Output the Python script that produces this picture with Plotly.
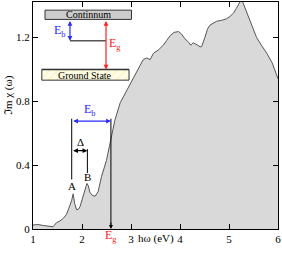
import plotly.graph_objects as go

energy = [1.0, 1.1, 1.21, 1.3, 1.41, 1.48, 1.55, 1.62, 1.68, 1.72, 1.76, 1.79, 1.82, 1.85, 1.89, 1.93, 1.96, 2.0, 2.03, 2.07, 2.10, 2.13, 2.16, 2.21, 2.27, 2.33, 2.40, 2.50, 2.57, 2.67, 2.78, 2.88, 2.98, 3.05, 3.12, 3.18, 3.25, 3.32, 3.39, 3.46, 3.56, 3.66, 3.73, 3.80, 3.88, 3.97, 4.03, 4.10, 4.17, 4.22, 4.27, 4.31, 4.36, 4.41, 4.44, 4.51, 4.56, 4.61, 4.68, 4.75, 4.85, 4.95, 5.02, 5.09, 5.15, 5.19, 5.24, 5.28, 5.33, 5.39, 5.47, 5.56, 5.66, 5.77, 5.88, 6.0]
chi = [0.025, 0.028, 0.022, 0.018, 0.014, 0.04, 0.05, 0.067, 0.09, 0.12, 0.15, 0.18, 0.22, 0.16, 0.12, 0.125, 0.14, 0.18, 0.22, 0.26, 0.285, 0.27, 0.23, 0.21, 0.205, 0.235, 0.33, 0.43, 0.535, 0.68, 0.79, 0.85, 0.91, 0.95, 0.99, 1.02, 1.06, 1.07, 1.06, 1.10, 1.12, 1.15, 1.18, 1.21, 1.23, 1.235, 1.22, 1.19, 1.17, 1.15, 1.165, 1.16, 1.15, 1.14, 1.14, 1.2, 1.25, 1.275, 1.29, 1.30, 1.305, 1.315, 1.33, 1.35, 1.38, 1.40, 1.43, 1.42, 1.38, 1.34, 1.28, 1.2, 1.15, 1.10, 1.04, 0.94]

x_ticks = [1, 2, 3, 4, 5, 6]
y_ticks = [0, 0.4, 0.8, 1.2]

serif = "Liberation Serif, Times New Roman, serif"
blue = "#2a2aff"
red = "#ff2020"

fig = go.Figure()
fig.add_trace(go.Scatter(x=energy, y=chi, mode="lines", fill="tozeroy",
                         fillcolor="#d9d9d9", line=dict(color="#555555", width=1),
                         hoverinfo="skip", showlegend=False))

# Ground state box (hatched)
gx0, gx1, gy0, gy1 = 1.18, 2.96, 0.931, 0.998
fig.add_trace(go.Scatter(x=[gx0, gx1, gx1, gx0, gx0], y=[gy0, gy0, gy1, gy1, gy0],
                         mode="lines", fill="toself", fillcolor="#fffce8",
                         fillpattern=dict(shape="/", fgcolor="#eedd44", bgcolor="#fffce8", size=6, solidity=0.15),
                         line=dict(color="#333333", width=1), showlegend=False, hoverinfo="skip"))

shapes = [
    dict(type="rect", x0=1.245, x1=3.01, y0=1.311, y1=1.369, fillcolor="#cccccc",
         line=dict(color="#333333", width=1)),
    dict(type="line", x0=gx0, x1=gx1, y0=gy1, y1=gy1, line=dict(color="#333333", width=1.5)),
    dict(type="line", x0=1.755, x1=2.49, y0=1.177, y1=1.177, line=dict(color="black", width=1)),
    dict(type="line", x0=1.79, x1=1.79, y0=0.69, y1=0.31, line=dict(color="black", width=1)),
    dict(type="line", x0=2.59, x1=2.59, y0=0.69, y1=0.02, line=dict(color="black", width=1)),
    dict(type="line", x0=2.11, x1=2.11, y0=0.50, y1=0.35, line=dict(color="black", width=1)),
]

def darrow(x0, y0, x1, y1, color):
    return dict(x=x1, y=y1, ax=x0, ay=y0, xref="x", yref="y", axref="x", ayref="y",
                showarrow=True, arrowhead=2, arrowside="end+start", arrowsize=0.8,
                arrowwidth=1.2, arrowcolor=color, text="")

annotations = [
    darrow(1.755, 1.311, 1.755, 1.177, blue),
    darrow(2.49, 1.311, 2.49, 0.998, red),
    darrow(1.79, 0.675, 2.59, 0.675, blue),
    darrow(1.79, 0.49, 2.11, 0.49, "black"),
    dict(x=2.59, y=0.0, ax=2.59, ay=0.05, xref="x", yref="y", axref="x", ayref="y",
         showarrow=True, arrowhead=2, arrowsize=0.8, arrowwidth=1, arrowcolor="black", text=""),
    dict(x=2.13, y=1.34, text="Continnum", showarrow=False, font=dict(family=serif, size=10, color="black")),
    dict(x=2.07, y=0.963, text="Ground State", showarrow=False, font=dict(family=serif, size=10, color="black")),
    dict(x=1.55, y=1.24, text="E<sub>b</sub>", showarrow=False, font=dict(family=serif, size=12, color=blue)),
    dict(x=2.68, y=1.16, text="E<sub>g</sub>", showarrow=False, font=dict(family=serif, size=12, color=red)),
    dict(x=2.17, y=0.745, text="E<sub>b</sub>", showarrow=False, font=dict(family=serif, size=12, color=blue)),
    dict(x=1.96, y=0.545, text="Δ", showarrow=False, font=dict(family=serif, size=11, color="black")),
    dict(x=1.80, y=0.27, text="A", showarrow=False, font=dict(family=serif, size=11, color="black")),
    dict(x=2.11, y=0.325, text="B", showarrow=False, font=dict(family=serif, size=11, color="black")),
    dict(x=2.59, y=-0.075, xref="x", yref="paper", text="E<sub>g</sub>", showarrow=False,
         font=dict(family=serif, size=12, color=red)),
    dict(x=3.5, y=-0.08, xref="x", yref="paper", text="hω (eV)", showarrow=False,
         font=dict(family=serif, size=11, color="black")),
    dict(x=-0.102, y=0.59, xref="paper", yref="paper", xanchor="center", yanchor="middle",
         text="ℑm χ (ω)", textangle=-90, showarrow=False,
         font=dict(family=serif, size=11, color="black")),
]

fig.update_layout(
    width=282, height=256,
    margin=dict(l=33, r=4, t=2, b=27, autoexpand=False),
    paper_bgcolor="white", plot_bgcolor="white",
    font=dict(family=serif, size=11, color="black"),
    shapes=shapes, annotations=annotations,
    xaxis=dict(range=[1, 6], tickvals=x_ticks, ticktext=[str(v) for v in x_ticks],
               ticks="inside", ticklen=5, tickcolor="black", showline=True, linecolor="black",
               linewidth=1, mirror="ticks", showgrid=False, zeroline=False, automargin=False),
    yaxis=dict(range=[0, 1.42], tickvals=y_ticks, ticktext=["0", "0.4", "0.8", "1.2"],
               ticks="inside", ticklen=5, tickcolor="black", showline=True, linecolor="black",
               linewidth=1, mirror="ticks", showgrid=False, zeroline=False, automargin=False),
)

fig.write_html("out.html", config={"displayModeBar": False},
               post_script="document.body.style.margin='0';document.body.style.overflow='hidden';")
